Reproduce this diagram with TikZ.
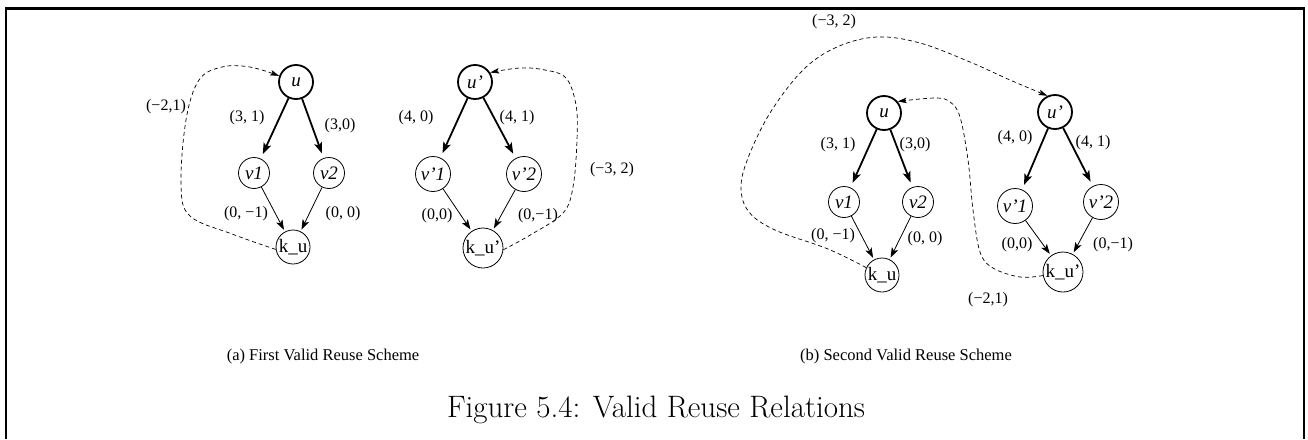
\documentclass[tikz,border=0pt]{standalone}
\usepackage{fontspec}
\setmainfont{Liberation Serif}
\newfontfamily\lmfont{Latin Modern Roman}
\usetikzlibrary{arrows.meta}
\begin{document}
\begin{tikzpicture}[x=1pt,y=-1pt,
  bignode/.style={circle, draw, line width=1.8pt, minimum size=34pt, inner sep=0pt, font=\fontsize{19}{19}\selectfont\itshape},
  vnode/.style={circle, draw, line width=0.8pt, minimum size=31pt, inner sep=0pt, font=\fontsize{19}{19}\selectfont\itshape},
  vpnode/.style={vnode, minimum size=35pt},
  knode/.style={circle, draw, line width=0.8pt, minimum size=34pt, inner sep=0pt, font=\fontsize{19}{19}\selectfont},
  kpnode/.style={knode, minimum size=40pt},
  lab/.style={font=\fontsize{16}{16}\selectfont, inner sep=0pt},
  captext/.style={font=\fontsize{16.5}{17}\selectfont, inner sep=0pt},
  thickarr/.style={-{Stealth[length=11pt,width=8pt,inset=2.5pt]}, line width=1.8pt, shorten >=5pt},
  thinarr/.style={-{Stealth[length=10pt,width=7pt,inset=2.5pt]}, line width=0.8pt, shorten >=2pt},
  dasharr/.style={dash pattern=on 4pt off 3pt, -{Stealth[length=9pt,width=5.5pt,inset=2pt]}, line width=0.7pt},
  framestyle/.style={line width=2.4pt}
]
\useasboundingbox (0,0) rectangle (1308,439);
% frame
\coordinate (fl) at (6,439);
\coordinate (ftl) at (6,8.5);
\coordinate (ftr) at (1304,8.5);
\coordinate (fr) at (1304,439);
\draw[framestyle] (fl) -- (ftl) -- (ftr) -- (fr);

% ---------- panel (a), left graph
\node[bignode] (au) at (296,82) {u};
\node[vnode] (av1) at (254,173) {v1};
\node[vnode] (av2) at (329,173) {v2};
\node[knode] (aku) at (293,247) {k\_u};
\draw[thickarr] (au) -- (av1);
\draw[thickarr] (au) -- (av2);
\draw[thinarr] (av1) -- (aku);
\draw[thinarr] (av2) -- (aku);
\draw[dasharr] plot[smooth, tension=0.6] coordinates {(aku.188) (232,234) (190,216) (181,185) (186,120) (199,80) (222,67) (250,67) (au.160)};
\node[lab] (la1) at (166,107) {(−2,1)};
\node[lab] (la2) at (247,118) {(3, 1)};
\node[lab] (la3) at (340,126) {(3,0)};
\node[lab] (la4) at (246,214) {(0, −1)};
\node[lab] (la5) at (343,214) {(0, 0)};

% ---------- panel (a), right graph
\node[bignode] (bu) at (475,82) {u'};
\node[vpnode] (bv1) at (433,174) {v'1};
\node[vpnode] (bv2) at (524,174) {v'2};
\node[kpnode] (bku) at (483,248) {k\_u'};
\draw[thickarr] (bu) -- (bv1);
\draw[thickarr] (bu) -- (bv2);
\draw[thinarr] (bv1) -- (bku);
\draw[thinarr] (bv2) -- (bku);
\draw[dasharr] plot[smooth, tension=0.6] coordinates {(bku.-5) (532,234) (563,213) (573,187) (577,140) (576,105) (566,78) (545,70) (520,68) (bu.32)};
\node[lab] (lb1) at (416,118) {(4, 0)};
\node[lab] (lb2) at (517,118) {(4, 1)};
\node[lab] (lb3) at (612,170) {(−3, 2)};
\node[lab] (lb4) at (437,216) {(0,0)};
\node[lab] (lb5) at (538,216) {(0,−1)};

% ---------- panel (b), left graph
\node[bignode] (cu) at (884,113) {u};
\node[vnode] (cv1) at (844,202) {v1};
\node[vnode] (cv2) at (918,202) {v2};
\node[knode] (cku) at (882,275) {k\_u};
\draw[thickarr] (cu) -- (cv1);
\draw[thickarr] (cu) -- (cv2);
\draw[thinarr] (cv1) -- (cku);
\draw[thinarr] (cv2) -- (cku);
\node[lab] (lc1) at (834,22) {(−3, 2)};
\node[lab] (lc2) at (838,145) {(3, 1)};
\node[lab] (lc3) at (915,145) {(3,0)};
\node[lab] (lc4) at (833,236) {(0, −1)};
\node[lab] (lc5) at (925,239) {(0, 0)};

% ---------- panel (b), right graph
\node[bignode] (du) at (1055,112) {u'};
\node[vpnode] (dv1) at (1015,206) {v'1};
\node[vpnode] (dv2) at (1101,202) {v'2};
\node[kpnode] (dku) at (1063,272) {k\_u'};
\draw[thickarr] (du) -- (dv1);
\draw[thickarr] (du) -- (dv2);
\draw[thinarr] (dv1) -- (dku);
\draw[thinarr] (dv2) -- (dku);
\node[lab] (ld1) at (1015,138) {(4, 0)};
\node[lab] (ld2) at (1093,143) {(4, 1)};
\node[lab] (ld3) at (1017,245) {(0,0)};
\node[lab] (ld4) at (1113,245) {(0,−1)};
\node[lab] (ld5) at (988,300) {(−2,1)};

% dashed reuse arcs in (b)
\draw[dasharr] plot[smooth, tension=0.6] coordinates {(cku.155) (828,249) (775,230) (749,212) (741,188) (748,158) (770,113) (803,70) (837,47) (877,37) (920,43) (970,62) (1010,80) (du.115)};
\draw[dasharr] plot[smooth, tension=0.6] coordinates {(dku.190) (1020,277) (993,268) (980,252) (973,210) (968,160) (960,117) (950,102) (935,98) (cu.40)};

% captions
\node[captext] (capa) at (323,357) {(a) First Valid Reuse Scheme};
\node[captext] (capb) at (906,357) {(b) Second Valid Reuse Scheme};
\node[font=\lmfont\fontsize{31}{31}\selectfont, inner sep=0pt] (fig) at (656,410) {Figure 5.4: Valid Reuse Relations};
\end{tikzpicture}
\end{document}
